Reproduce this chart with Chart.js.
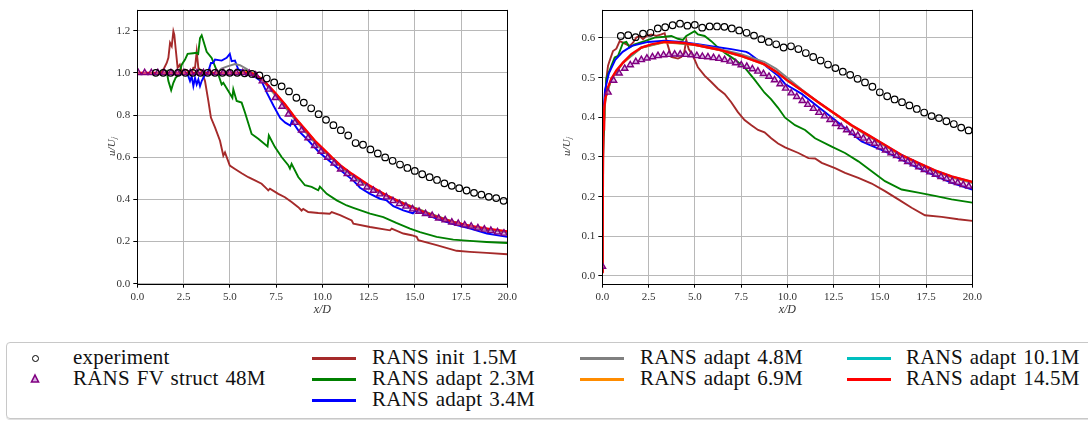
<!DOCTYPE html>
<html>
<head>
<meta charset="utf-8">
<script src="https://cdn.jsdelivr.net/npm/chart.js@4.4.1/dist/chart.umd.min.js"></script>
<style>
    html, body { margin: 0; padding: 0; background: #fff; }
    #wrap { position: relative; width: 1088px; height: 421px; overflow: hidden; }
    #wrap canvas { position: absolute; top: 0; }
    #legendBox {
        position: absolute; left: 6px; top: 342px; width: 1100px; height: 77px;
        border: 1px solid #c8c8c8; border-radius: 4px; box-sizing: border-box;
        box-shadow: 0 1px 0 #e0e0e0;
    }
    .txt {
        position: absolute; font-family: "Liberation Serif", "Times New Roman", serif; font-size: 21px;
        letter-spacing: 0.2px; word-spacing: 1.5px; line-height: 21px; white-space: nowrap; color: #111;
    }
    .sw { position: absolute; height: 3px; width: 44px; }
</style>
</head>
<body>
<div id="wrap">
    <canvas id="leftChart" width="544" height="330" style="left:0"></canvas>
    <canvas id="rightChart" width="544" height="330" style="left:544px"></canvas>
    <div id="legendBox"></div>
    <div id="legend"></div>
</div>
<script>
// ---- данные ----
const lineNames = ['RANS init 1.5M', 'RANS adapt 2.3M', 'RANS adapt 3.4M', 'RANS adapt 4.8M',
    'RANS adapt 6.9M', 'RANS adapt 10.1M', 'RANS adapt 14.5M'];
const lineColors = ['#a52a2a', '#008000', '#0000ff', '#808080', '#ff8c00', '#00bfbf', '#ff0000'];

const xTicks = [0, 2.5, 5, 7.5, 10, 12.5, 15, 17.5, 20];
const yTicksLeft = [0, 0.2, 0.4, 0.6, 0.8, 1.0, 1.2];
const yTicksRight = [0, 0.1, 0.2, 0.3, 0.4, 0.5, 0.6];

// эксперимент
const expX = [1.0, 1.4, 1.8, 2.2, 2.6, 3.0, 3.4, 3.8, 4.2, 4.6, 5.0, 5.4, 5.8, 6.2, 6.6, 7.0,
    7.4, 7.8, 8.2, 8.6, 9.0, 9.4, 9.8, 10.2, 10.6, 11.0, 11.4, 11.8, 12.2, 12.6, 13.0, 13.4,
    13.8, 14.2, 14.6, 15.0, 15.4, 15.8, 16.2, 16.6, 17.0, 17.4, 17.8, 18.2, 18.6, 19.0, 19.4, 19.8];
const expLeft = [1.0, 1.0, 1.0, 1.0, 1.0, 1.0, 1.0, 1.0, 1.0, 1.0, 1.0, 1.0, 0.998, 0.995, 0.988, 0.973,
    0.955, 0.936, 0.912, 0.882, 0.859, 0.832, 0.804, 0.777, 0.752, 0.728, 0.703, 0.667, 0.659, 0.637, 0.618, 0.599,
    0.583, 0.565, 0.549, 0.535, 0.519, 0.505, 0.492, 0.476, 0.464, 0.453, 0.442, 0.431, 0.422, 0.412, 0.406, 0.393];
const expRight = [0.605, 0.607, 0.602, 0.611, 0.613, 0.624, 0.627, 0.632, 0.636, 0.631, 0.633, 0.626, 0.629, 0.629, 0.628, 0.624,
    0.619, 0.613, 0.606, 0.597, 0.590, 0.584, 0.576, 0.579, 0.572, 0.562, 0.552, 0.543, 0.533, 0.524, 0.515, 0.507,
    0.497, 0.488, 0.477, 0.463, 0.453, 0.445, 0.438, 0.430, 0.421, 0.412, 0.403, 0.398, 0.390, 0.383, 0.374, 0.367];

// RANS FV struct 48M
const fvLeftX = [0.05, 0.40, 0.76, 1.11, 1.46, 1.82, 2.17, 2.52, 2.87, 3.23, 3.58, 3.93, 4.29, 4.64, 4.99,
    5.35, 5.70, 6.05, 6.40, 6.76, 7.11, 7.46, 7.82, 8.17, 8.52, 8.88, 9.23, 9.58, 9.93, 10.29, 10.64,
    10.99, 11.35, 11.70, 12.05, 12.41, 12.76, 13.11, 13.46, 13.82, 14.17, 14.52, 14.88, 15.23, 15.58,
    15.94, 16.29, 16.64, 17.00, 17.35, 17.70, 18.05, 18.41, 18.76, 19.11, 19.47, 19.82];
const fvLeft = [1.0, 1.0, 1.0, 1.0, 1.0, 1.0, 1.0, 1.0, 1.0, 1.0, 1.0, 1.0, 1.0, 1.0, 1.0,
    1.0, 1.0, 0.997, 0.989, 0.961, 0.922, 0.882, 0.841, 0.804, 0.764, 0.728, 0.691, 0.654, 0.627, 0.599, 0.571,
    0.543, 0.521, 0.497, 0.477, 0.458, 0.442, 0.425, 0.411, 0.393, 0.379, 0.367, 0.354, 0.343, 0.332,
    0.323, 0.311, 0.302, 0.292, 0.285, 0.278, 0.272, 0.264, 0.258, 0.252, 0.245, 0.239];
const fvRightX = [0.01, 0.31, 0.61, 0.91, 1.21, 1.51, 1.81, 2.11, 2.41, 2.71, 3.01, 3.31, 3.61, 3.91, 4.21,
    4.51, 4.81, 5.11, 5.41, 5.71, 6.01, 6.31, 6.61, 6.91, 7.21, 7.51, 7.81, 8.11, 8.41, 8.71, 9.01,
    9.31, 9.61, 9.91, 10.21, 10.51, 10.81, 11.11, 11.41, 11.71, 12.01, 12.31, 12.61, 12.91, 13.21, 13.51,
    13.81, 14.11, 14.41, 14.71, 15.01, 15.31, 15.61, 15.91, 16.21, 16.51, 16.81, 17.11, 17.41, 17.71,
    18.01, 18.31, 18.61, 18.91, 19.21, 19.51, 19.81];
const fvRight = [0.024, 0.463, 0.493, 0.511, 0.523, 0.532, 0.540, 0.545, 0.549, 0.552,
    0.555, 0.557, 0.558, 0.559, 0.559, 0.558, 0.557, 0.555, 0.553, 0.552,
    0.550, 0.548, 0.545, 0.541, 0.537, 0.532, 0.528, 0.522, 0.516, 0.510,
    0.503, 0.494, 0.484, 0.473, 0.461, 0.452, 0.442, 0.432, 0.422, 0.412,
    0.403, 0.394, 0.384, 0.376, 0.368, 0.361, 0.354, 0.347, 0.340, 0.334,
    0.325, 0.317, 0.310, 0.303, 0.295, 0.288, 0.282, 0.275, 0.268, 0.262,
    0.256, 0.250, 0.245, 0.239, 0.235, 0.230, 0.226];

// линии RANS, левый график: [x, y]
const initLeft = [[0, 1.0], [1.3, 1.0], [1.46, 1.024], [1.59, 1.047], [1.68, 1.071], [1.77, 1.142], [1.86, 1.126],
    [1.95, 1.197], [2.0, 1.181], [2.07, 1.118], [2.18, 1.024], [2.3, 1.039], [2.4, 1.008], [2.58, 1.016],
    [2.76, 1.008], [2.94, 1.0], [3.03, 1.024], [3.12, 1.024], [3.21, 1.10], [3.3, 1.024], [3.48, 1.008],
    [3.66, 0.961], [3.84, 0.867], [3.98, 0.788], [4.2, 0.741], [4.47, 0.678], [4.65, 0.607], [4.74, 0.623],
    [5.0, 0.56], [5.28, 0.544], [5.64, 0.524], [6.0, 0.505], [6.36, 0.49], [6.72, 0.474], [6.99, 0.451],
    [7.08, 0.443], [7.17, 0.451], [7.62, 0.426], [7.98, 0.41], [8.34, 0.387], [8.7, 0.363], [8.88, 0.347],
    [8.97, 0.355], [9.24, 0.34], [9.78, 0.335], [10.4, 0.332], [10.51, 0.340], [10.96, 0.325], [11.59, 0.300],
    [11.68, 0.285], [12.58, 0.269], [13.66, 0.253], [13.75, 0.261], [14.38, 0.238], [14.83, 0.230], [15.1, 0.222],
    [15.19, 0.206], [16.18, 0.183], [17.26, 0.156], [17.98, 0.151], [18.88, 0.146], [20, 0.140]];
const adapt23Left = [[0, 1.0], [1.5, 1.0], [1.59, 1.008], [1.68, 0.961], [1.83, 0.918], [1.95, 0.953], [2.07, 0.976],
    [2.25, 0.992], [2.4, 1.039], [2.58, 1.063], [2.72, 1.09], [3.02, 1.093], [3.2, 1.095], [3.29, 1.09],
    [3.39, 1.165], [3.48, 1.178], [3.75, 1.10], [4.02, 1.071], [4.38, 0.992], [4.56, 0.945], [4.65, 0.953],
    [4.92, 0.914], [5.14, 0.882], [5.19, 0.922], [5.37, 0.867], [5.64, 0.859], [5.82, 0.812], [6.18, 0.71],
    [6.54, 0.687], [7.04, 0.651], [7.11, 0.703], [7.44, 0.648], [7.8, 0.601], [8.16, 0.562], [8.25, 0.546],
    [8.34, 0.568], [8.7, 0.506], [9.06, 0.467], [9.42, 0.459], [9.78, 0.443], [9.87, 0.460], [10.24, 0.426],
    [10.78, 0.395], [11.32, 0.371], [11.68, 0.360], [12.58, 0.332], [13.3, 0.316], [14.0, 0.288], [14.74, 0.261],
    [15.28, 0.245], [16.18, 0.222], [17.08, 0.209], [17.98, 0.203], [18.88, 0.198], [20, 0.193]];
const adapt34Left = [[0, 1.0], [2.7, 1.0], [2.85, 0.961], [2.94, 0.984], [3.03, 0.937], [3.12, 0.976], [3.21, 0.945],
    [3.3, 0.969], [3.39, 0.937], [3.48, 0.961], [3.66, 0.992], [3.84, 1.008], [3.98, 1.047], [4.1, 1.047],
    [4.2, 1.063], [4.56, 1.058], [4.83, 1.071], [5.0, 1.09], [5.1, 1.055], [5.28, 1.058], [5.46, 1.016],
    [5.82, 1.008], [6.1, 1.0], [6.37, 0.98], [6.73, 0.958], [7.0, 0.906], [7.37, 0.843], [7.73, 0.785],
    [8.0, 0.764], [8.27, 0.750], [8.36, 0.772], [8.72, 0.725], [9.26, 0.678], [9.8, 0.626], [10.15, 0.600],
    [10.78, 0.552], [11.68, 0.489], [12.04, 0.455], [12.58, 0.426], [13.12, 0.403], [13.48, 0.395], [13.84, 0.368],
    [14.38, 0.348], [14.9, 0.334], [15.0, 0.345], [15.3, 0.338], [16.2, 0.308], [17.1, 0.282], [18.0, 0.261],
    [18.9, 0.238], [20, 0.222]];
const adapt48Left = [[0, 1.0], [4.3, 1.0], [4.55, 1.02], [4.83, 1.03], [5.28, 1.042], [5.55, 1.036], [5.9, 1.019],
    [6.18, 1.003], [6.5, 0.985], [6.9, 0.95], [7.44, 0.895], [7.98, 0.838], [8.52, 0.778], [9.06, 0.722],
    [9.6, 0.668], [10.15, 0.622], [11.0, 0.553], [12.0, 0.488], [13.0, 0.437], [14.0, 0.394], [15.0, 0.356],
    [16.0, 0.322], [17.0, 0.293], [18.0, 0.271], [19.0, 0.256], [20, 0.243]];
const adapt69Left = [[0, 1.0], [5.6, 1.0], [5.85, 1.008], [6.05, 1.005], [6.3, 0.995], [6.6, 0.98], [6.95, 0.952],
    [7.44, 0.905], [8.0, 0.848], [8.52, 0.787], [9.06, 0.732], [9.6, 0.677], [10.15, 0.630], [11.0, 0.559],
    [12.0, 0.492], [13.0, 0.441], [14.0, 0.398], [15.0, 0.361], [16.0, 0.327], [17.0, 0.296], [18.0, 0.273],
    [19.0, 0.259], [20, 0.246]];
const adapt101Left = [[0, 1.0], [5.8, 1.0], [6.2, 0.996], [6.5, 0.984], [6.9, 0.954], [7.44, 0.904], [7.98, 0.849],
    [8.52, 0.786], [9.06, 0.731], [9.6, 0.676], [10.15, 0.629], [11.0, 0.558], [12.0, 0.492], [13.0, 0.44],
    [14.0, 0.397], [15.0, 0.36], [16.0, 0.326], [17.0, 0.295], [18.0, 0.272], [19.0, 0.259], [20, 0.246]];
const adapt145Left = [[0, 1.0], [5.8, 1.0], [6.2, 0.997], [6.5, 0.985], [6.9, 0.956], [7.44, 0.906], [7.98, 0.851],
    [8.52, 0.788], [9.06, 0.733], [9.6, 0.678], [10.15, 0.631], [10.5, 0.600], [11.0, 0.560], [11.6, 0.521],
    [12.5, 0.468], [13.48, 0.418], [14.4, 0.38], [15.3, 0.346], [16.2, 0.317], [17.1, 0.292], [18.0, 0.274],
    [19.0, 0.260], [20, 0.248]];

// линии RANS, правый график
const initRight = [[0, 0.01], [0.05, 0.30], [0.13, 0.413], [0.22, 0.497], [0.31, 0.530], [0.40, 0.543], [0.58, 0.567],
    [0.76, 0.573], [0.94, 0.592], [1.12, 0.588], [1.30, 0.584], [1.48, 0.580], [1.66, 0.588], [1.84, 0.601],
    [2.02, 0.605], [2.20, 0.597], [2.38, 0.605], [2.65, 0.609], [2.92, 0.605], [3.19, 0.609], [3.37, 0.612],
    [3.55, 0.580], [3.73, 0.552], [4.09, 0.548], [4.27, 0.552], [4.42, 0.562], [4.54, 0.595], [4.67, 0.572],
    [4.9, 0.555], [5.17, 0.526], [5.53, 0.505], [5.89, 0.489], [6.25, 0.472], [6.61, 0.459], [6.97, 0.438],
    [7.33, 0.413], [7.69, 0.393], [8.06, 0.380], [8.42, 0.368], [8.77, 0.362], [9.13, 0.347], [9.5, 0.334],
    [9.88, 0.324], [10.6, 0.31], [11.14, 0.297], [11.5, 0.296], [11.86, 0.285], [12.58, 0.272], [13.12, 0.260],
    [13.84, 0.247], [14.56, 0.233], [15.28, 0.214], [16.0, 0.193], [16.72, 0.172], [17.44, 0.153], [18.34, 0.149],
    [19.24, 0.143], [20, 0.139]];
const adapt23Right = [[0, 0.01], [0.05, 0.35], [0.22, 0.497], [0.49, 0.530], [0.67, 0.551], [0.85, 0.555], [1.12, 0.588],
    [1.30, 0.590], [1.48, 0.576], [1.75, 0.584], [2.29, 0.592], [2.83, 0.601], [3.37, 0.603], [3.73, 0.605],
    [4.09, 0.598], [4.36, 0.595], [4.54, 0.605], [4.99, 0.617], [5.17, 0.609], [5.53, 0.605], [5.89, 0.592],
    [6.16, 0.580], [6.61, 0.563], [7.15, 0.546], [7.69, 0.526], [8.23, 0.495], [8.77, 0.462], [9.13, 0.445],
    [9.5, 0.424], [9.88, 0.399], [10.42, 0.380], [10.96, 0.368], [11.5, 0.347], [12.4, 0.326], [13.12, 0.310],
    [13.84, 0.289], [14.56, 0.264], [15.28, 0.239], [16.18, 0.218], [17.08, 0.210], [17.98, 0.202], [18.88, 0.193],
    [20, 0.185]];
const adapt34Right = [[0, 0.01], [0.04, 0.40], [0.15, 0.47], [0.35, 0.51], [0.7, 0.545], [1.1, 0.565], [1.6, 0.580],
    [2.47, 0.590], [3.37, 0.593], [4.27, 0.590], [5.17, 0.584], [6.07, 0.578], [6.97, 0.572], [7.78, 0.565],
    [7.91, 0.562], [8.23, 0.551], [8.77, 0.532], [9.5, 0.505], [9.88, 0.484], [10.78, 0.459], [11.68, 0.426],
    [12.58, 0.393], [13.48, 0.359], [14.02, 0.339], [14.38, 0.332], [15.28, 0.314], [16.18, 0.293], [17.08, 0.272],
    [17.98, 0.253], [18.88, 0.235], [20, 0.218]];
const adapt48Right = [[0, 0.01], [0.04, 0.37], [0.16, 0.447], [0.49, 0.497], [1.12, 0.538], [2.11, 0.576], [3.37, 0.590],
    [5.0, 0.584], [6.25, 0.573], [7.5, 0.559], [8.75, 0.540], [9.4, 0.522], [10.0, 0.500], [10.78, 0.470],
    [11.68, 0.438], [12.58, 0.408], [13.48, 0.378], [14.38, 0.352], [15.28, 0.327], [16.18, 0.303], [17.08, 0.282],
    [17.98, 0.263], [18.88, 0.248], [20, 0.234]];
const adapt69Right = [[0, 0.01], [0.04, 0.37], [0.16, 0.446], [0.49, 0.496], [1.12, 0.537], [2.11, 0.575], [3.37, 0.589],
    [5.0, 0.582], [6.25, 0.570], [7.5, 0.554], [8.75, 0.533], [9.4, 0.514], [10.0, 0.492], [10.78, 0.467],
    [11.68, 0.437], [12.58, 0.408], [13.48, 0.379], [14.38, 0.354], [15.28, 0.329], [16.18, 0.304], [17.08, 0.284],
    [17.98, 0.265], [18.88, 0.250], [20, 0.236]];
const adapt101Right = [[0, 0.01], [0.04, 0.37], [0.16, 0.447], [0.49, 0.497], [1.12, 0.538], [2.11, 0.576], [3.37, 0.590],
    [5.0, 0.583], [6.25, 0.571], [7.5, 0.555], [8.75, 0.534], [9.4, 0.515], [10.0, 0.493], [10.78, 0.468],
    [11.68, 0.438], [12.58, 0.409], [13.48, 0.380], [14.38, 0.355], [15.28, 0.330], [16.18, 0.305], [17.08, 0.285],
    [17.98, 0.266], [18.88, 0.251], [20, 0.237]];
const adapt145Right = [[0, 0.01], [0.02, 0.10], [0.04, 0.37], [0.09, 0.413], [0.16, 0.447], [0.31, 0.476], [0.49, 0.497],
    [0.76, 0.518], [1.12, 0.538], [1.57, 0.559], [2.11, 0.576], [2.65, 0.584], [3.37, 0.590], [4.27, 0.588],
    [5.0, 0.583], [6.25, 0.571], [7.5, 0.555], [8.75, 0.534], [9.4, 0.515], [10.0, 0.493], [10.78, 0.468],
    [11.68, 0.438], [12.58, 0.409], [13.48, 0.380], [14.38, 0.355], [15.28, 0.330], [16.18, 0.305], [17.08, 0.285],
    [17.98, 0.266], [18.88, 0.251], [20, 0.237]];

const linesLeft = [initLeft, adapt23Left, adapt34Left, adapt48Left, adapt69Left, adapt101Left, adapt145Left];
const linesRight = [initRight, adapt23Right, adapt34Right, adapt48Right, adapt69Right, adapt101Right, adapt145Right];

// ---- оформление ----
const serif = '"Liberation Serif", "Times New Roman", serif';
Chart.defaults.font.family = serif;

// рамка вокруг области графика (все четыре стороны)
const framePlugin = {
    id: 'frame',
    afterDraw(chart) {
        const { ctx, chartArea: a } = chart;
        ctx.save();
        ctx.strokeStyle = '#000';
        ctx.lineWidth = 1;
        ctx.strokeRect(Math.round(a.left) + 0.5, Math.round(a.top) + 0.5,
            Math.round(a.right - a.left), Math.round(a.bottom - a.top));
        ctx.restore();
    }
};

function makeDatasets(expY, fvX, fvY, lines) {
    const list = [
        {
            label: 'experiment',
            data: expX.map((x, i) => ({ x: x, y: expY[i] })),
            showLine: false, pointStyle: 'circle', pointRadius: 3.3, pointBorderWidth: 1.2,
            pointBorderColor: '#000', pointBackgroundColor: 'rgba(255,255,255,0)', order: 0
        },
        {
            label: 'RANS FV struct 48M',
            data: fvX.map((x, i) => ({ x: x, y: fvY[i] })),
            showLine: false, pointStyle: 'triangle', pointRadius: 3.6, pointBorderWidth: 1.4,
            pointBorderColor: '#800080', pointBackgroundColor: 'rgba(190,120,210,0.55)', order: 1
        }
    ];
    lines.forEach((l, i) => {
        list.push({
            label: lineNames[i],
            data: l.map(p => ({ x: p[0], y: p[1] })),
            showLine: true, borderColor: lineColors[i], borderWidth: i === 6 ? 2.4 : 1.9,
            pointRadius: 0, tension: 0, order: 10 - i
        });
    });
    return list;
}

function makeChart(id, cfg) {
    return new Chart(document.getElementById(id), {
        type: 'scatter',
        data: { datasets: makeDatasets(cfg.expY, cfg.fvX, cfg.fvY, cfg.lines) },
        plugins: [framePlugin],
        options: {
            responsive: false,
            animation: false,
            layout: { padding: { left: cfg.padLeft, right: cfg.padRight, top: 7.3, bottom: 0 } },
            plugins: { legend: { display: false }, tooltip: { enabled: false } },
            scales: {
                x: {
                    type: 'linear', min: 0, max: 20,
                    afterBuildTicks: s => { s.ticks = xTicks.map(v => ({ value: v })); },
                    afterFit: s => { s.height = 46.3; },
                    ticks: { callback: v => v.toFixed(1), color: '#333', font: { size: 11 }, padding: 3, maxRotation: 0, autoSkip: false },
                    grid: { color: '#b8b8b8', lineWidth: 1, tickLength: 4, tickColor: '#000' },
                    border: { display: false },
                    title: { display: true, text: 'x/D', color: '#333', font: { size: 12, style: 'italic' }, padding: { top: 0, bottom: 13 } }
                },
                y: {
                    type: 'linear', min: cfg.yMin, max: cfg.yMax,
                    afterBuildTicks: s => { s.ticks = cfg.yTicks.map(v => ({ value: v })); },
                    afterFit: s => { s.width = cfg.axisWidth; },
                    ticks: { callback: v => v.toFixed(1), color: '#333', font: { size: 11 }, padding: 3, autoSkip: false },
                    grid: { color: '#b8b8b8', lineWidth: 1, tickLength: 4, tickColor: '#000' },
                    border: { display: false },
                    title: { display: true, text: 'u/Uⱼ', color: '#333', font: { size: 11, style: 'italic' }, padding: { top: cfg.titlePad, bottom: 0 } }
                }
            }
        }
    });
}

makeChart('leftChart', {
    expY: expLeft, fvX: fvLeftX, fvY: fvLeft, lines: linesLeft,
    yMin: 0, yMax: 1.3, yTicks: yTicksLeft,
    padLeft: 100, padRight: 36.7, axisWidth: 37.3, titlePad: 6
});
makeChart('rightChart', {
    expY: expRight, fvX: fvRightX, fvY: fvRight, lines: linesRight,
    yMin: -0.0195, yMax: 0.6715, yTicks: yTicksRight,
    padLeft: 10, padRight: 115.7, axisWidth: 48.3, titlePad: 6.4
});

// ---- легенда ----
const legend = document.getElementById('legend');
const rows = [358, 379, 400];
function addText(text, left, cy) {
    const d = document.createElement('div');
    d.className = 'txt';
    d.textContent = text;
    d.style.left = left + 'px';
    d.style.top = (cy - 11.5) + 'px';
    legend.appendChild(d);
}
function addSwatch(color, left, cy) {
    const d = document.createElement('div');
    d.className = 'sw';
    d.style.background = color;
    d.style.left = left + 'px';
    d.style.top = (cy - 1.5) + 'px';
    legend.appendChild(d);
}
// маркеры
const circle = document.createElement('div');
circle.style.cssText = 'position:absolute;left:31.5px;top:' + (rows[0] - 3.5) + 'px;width:5px;height:5px;border:1.3px solid #000;border-radius:50%;';
legend.appendChild(circle);
const tri = document.createElementNS('http://www.w3.org/2000/svg', 'svg');
tri.setAttribute('width', '12');
tri.setAttribute('height', '12');
tri.style.cssText = 'position:absolute;left:29px;top:' + (rows[1] - 6) + 'px;';
tri.innerHTML = '<polygon points="6,2 9.5,9 2.5,9" fill="rgba(190,120,210,0.55)" stroke="#800080" stroke-width="1.6"/>';
legend.appendChild(tri);
addText('experiment', 73, rows[0]);
addText('RANS FV struct 48M', 73, rows[1]);

const cols = [[312, 372], [312, 372], [312, 372], [580, 640], [580, 640], [847, 906], [847, 906]];
const colRows = [0, 1, 2, 0, 1, 0, 1];
lineNames.forEach((name, i) => {
    addSwatch(lineColors[i], cols[i][0], rows[colRows[i]]);
    addText(name, cols[i][1], rows[colRows[i]]);
});
</script>
</body>
</html>
